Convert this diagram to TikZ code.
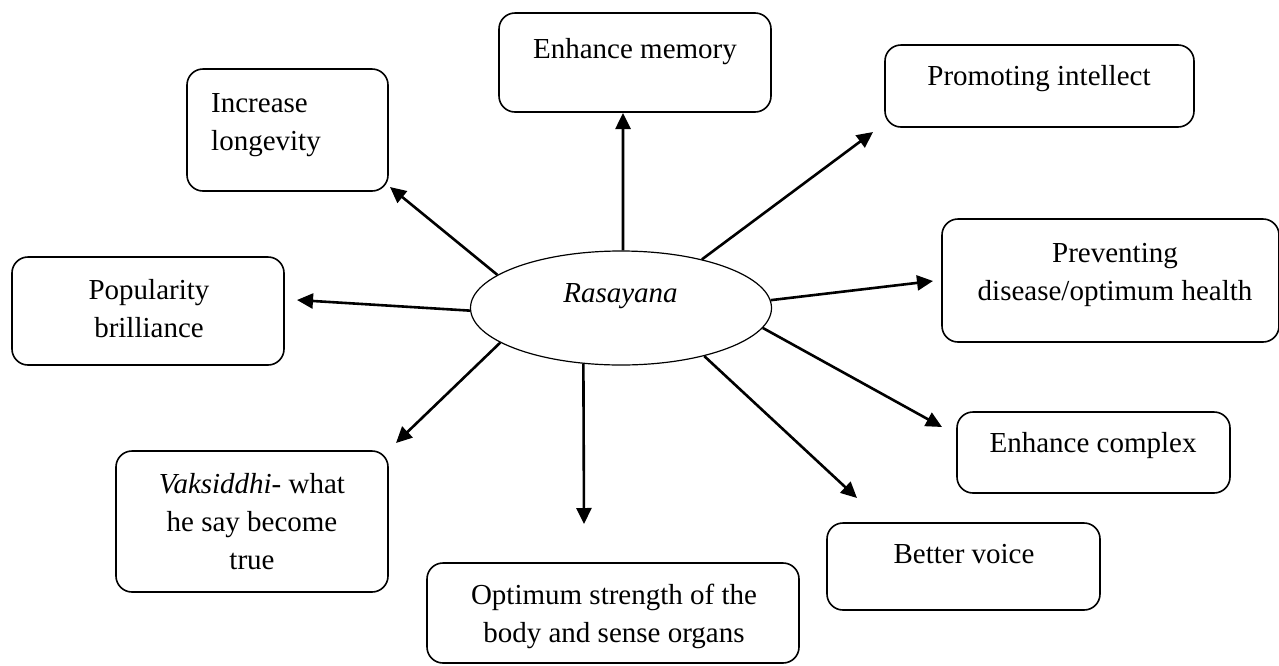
\documentclass[tikz,border=0pt]{standalone}
\usepackage{fontspec}
\setmainfont{Liberation Serif}
\usetikzlibrary{shapes.geometric,arrows.meta}
\begin{document}
\begin{tikzpicture}[x=1pt,y=-1pt,
  box/.style={draw,line width=1.6pt,rounded corners=16pt,inner sep=0pt},
  txt/.style={font=\fontsize{29}{38}\selectfont,align=center,inner sep=0pt,anchor=base},
  arr/.style={line width=2.6pt,-{Triangle[length=16pt,width=15pt]}}]
\useasboundingbox (0,0) rectangle (1279,665);
\fill[white] (0,0) rectangle (1279,665);
% central ellipse
\node[ellipse,draw,line width=1.2pt,minimum width=301pt,minimum height=114pt,inner sep=0pt] (e) at (621,308) {};
\node[txt] (et) at (620.5,302) {\itshape Rasayana};
% boxes
\node[box,minimum width=272pt,minimum height=99pt] (mem) at (635,62.5) {};
\node[txt] (memt) at (635,58) {Enhance memory};
\node[box,minimum width=309pt,minimum height=82pt] (prom) at (1039.5,86) {};
\node[txt] (promt) at (1039,85) {Promoting intellect};
\node[box,minimum width=201pt,minimum height=122pt] (long) at (287.5,130) {};
\node[txt,align=left,anchor=base west] (longt) at (211,150) {Increase\\longevity};
\node[box,minimum width=337pt,minimum height=123pt] (prev) at (1110.5,280.5) {};
\node[txt] (prevt) at (1115,300) {Preventing\\disease/optimum health};
\node[box,minimum width=272pt,minimum height=108pt] (pop) at (148,311) {};
\node[txt] (popt) at (149,337) {Popularity\\brilliance};
\node[box,minimum width=273pt,minimum height=81pt] (comp) at (1093.5,452.5) {};
\node[txt] (compt) at (1093,452) {Enhance complex};
\node[box,minimum width=273pt,minimum height=87pt] (voice) at (963.5,566.5) {};
\node[txt] (voicet) at (964,563) {Better voice};
\node[box,minimum width=272pt,minimum height=141pt] (vak) at (252,521.5) {};
\node[txt] (vakt) at (252,569) {\textit{Vaksiddhi}- what\\he say become\\true};
\node[box,minimum width=372pt,minimum height=100pt] (opt) at (613,613) {};
\node[txt] (optt) at (614,642) {Optimum strength of the\\body and sense organs};
% arrow tips
\coordinate (tmem) at (623,113);
\coordinate (tprom) at (873,132);
\coordinate (tlong) at (390,187);
\coordinate (tpop) at (297,300);
\coordinate (tprev) at (933,281);
\coordinate (tcomp) at (942,427);
\coordinate (tvoice) at (857,498);
\coordinate (topt) at (584,524);
\coordinate (tvak) at (396,443);
% connectors
\draw[arr] (e.88) -- (tmem);
\draw[arr] (e.31) -- (tprom);
\draw[arr] (e.165.4) -- (tlong);
\draw[arr] (e.-179) -- (tpop);
\draw[arr] (e.3) -- (tprev);
\draw[arr] (e.-8.8) -- (tcomp);
\draw[arr] (e.-30.5) -- (tvoice);
\draw[arr] (e.-124) -- (topt);
\draw[arr] (e.-164.5) -- (tvak);
\end{tikzpicture}
\end{document}
